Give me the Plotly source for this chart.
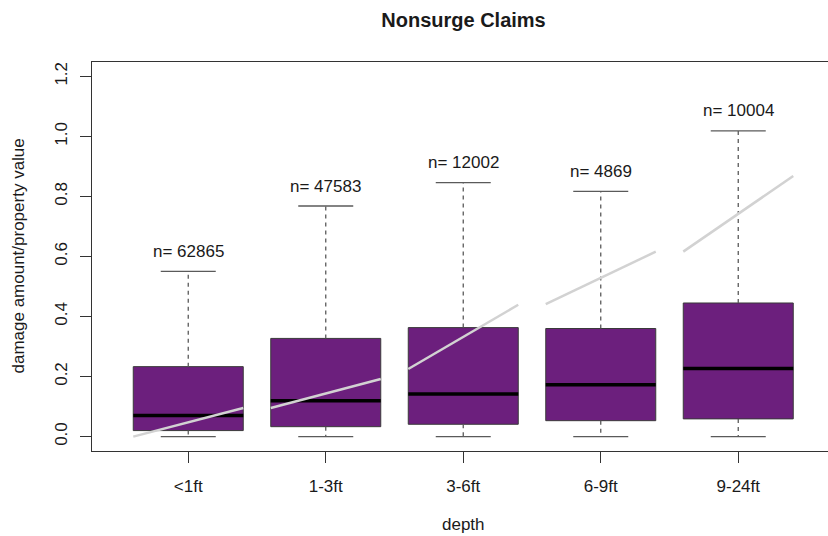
import plotly.graph_objects as go

# Depth classes and box statistics (damage amount / property value)
depth = ["<1ft", "1-3ft", "3-6ft", "6-9ft", "9-24ft"]
n_claims = [62865, 47583, 12002, 4869, 10004]
lower_whisker = [0.0, 0.0, 0.0, 0.0, 0.0]
q1 = [0.020, 0.033, 0.041, 0.053, 0.059]
median = [0.070, 0.119, 0.142, 0.173, 0.227]
q3 = [0.233, 0.327, 0.363, 0.360, 0.445]
upper_whisker = [0.550, 0.768, 0.846, 0.817, 1.018]

# Reference damage curve evaluated at the start and end of each depth class
curve_start = [0.0, 0.095, 0.225, 0.441, 0.616]
curve_end = [0.095, 0.192, 0.439, 0.616, 0.868]

y_ticks = [0.0, 0.2, 0.4, 0.6, 0.8, 1.0, 1.2]

FONT = "Liberation Sans, Arial, sans-serif"
TEXT = "#1a1a1a"
BOX_FILL = "#6c1f7d"
BOX_EDGE = "#3a3a3a"
WHISKER = "#5a5a5a"
CURVE = "#d2d2d2"
HALF = 0.4      # half box width (boxwex 0.8)
CAP = 0.2       # half staple width

pos = list(range(1, len(depth) + 1))


def segments(xs0, xs1, ys0, ys1):
    xs, ys = [], []
    for a, b, c, d in zip(xs0, xs1, ys0, ys1):
        xs += [a, b, None]
        ys += [c, d, None]
    return xs, ys


fig = go.Figure()

# whiskers (dashed) from box edges to extremes
wx, wy = segments(pos + pos, pos + pos, q3 + q1, upper_whisker + lower_whisker)
fig.add_trace(go.Scatter(x=wx, y=wy, mode="lines", hoverinfo="skip",
                         line=dict(color=WHISKER, width=1.3, dash="4px,4px")))

# staples at whisker ends
cx, cy = segments([p - CAP for p in pos] * 2, [p + CAP for p in pos] * 2,
                  upper_whisker + lower_whisker, upper_whisker + lower_whisker)
fig.add_trace(go.Scatter(x=cx, y=cy, mode="lines", hoverinfo="skip",
                         line=dict(color=WHISKER, width=1.3)))

# boxes: interquartile range
fig.add_trace(go.Bar(x=pos, base=q1, y=[b - a for a, b in zip(q1, q3)],
                     width=2 * HALF, hoverinfo="skip",
                     marker=dict(color=BOX_FILL, line=dict(color=BOX_EDGE, width=1))))

# medians
mx, my = segments([p - HALF for p in pos], [p + HALF for p in pos], median, median)
fig.add_trace(go.Scatter(x=mx, y=my, mode="lines", hoverinfo="skip",
                         line=dict(color="black", width=3.5)))

# reference curve across each depth class
rx, ry = segments([p - HALF for p in pos], [p + HALF for p in pos], curve_start, curve_end)
fig.add_trace(go.Scatter(x=rx, y=ry, mode="lines", hoverinfo="skip",
                         line=dict(color=CURVE, width=2.5)))

# sample size labels above the upper whiskers
for p, n, u in zip(pos, n_claims, upper_whisker):
    fig.add_annotation(x=p, y=u, xref="x", yref="y", text=f"n= {n}",
                       showarrow=False, yshift=20,
                       font=dict(family=FONT, size=17, color=TEXT))

# axis titles
fig.add_annotation(x=0.5048, y=-0.19, xref="paper", yref="paper", text="depth",
                   showarrow=False, yanchor="middle",
                   font=dict(family=FONT, size=17, color=TEXT))
fig.add_annotation(x=-0.1005, y=0.5, xref="paper", yref="paper",
                   text="damage amount/property value", textangle=-90,
                   showarrow=False, xanchor="center", yanchor="middle",
                   font=dict(family=FONT, size=17, color=TEXT))

fig.update_layout(
    width=828, height=536,
    margin=dict(l=92, r=0, t=62, b=84.5),
    paper_bgcolor="white", plot_bgcolor="white",
    showlegend=False,
    title=dict(text="<b>Nonsurge Claims</b>", x=463.5 / 828, xanchor="center",
               y=1 - 20 / 536, yanchor="middle", xref="container", yref="container",
               font=dict(family=FONT, size=20, color=TEXT)),
    xaxis=dict(range=[0.3, 0.3 + 736 / 137.5], tickvals=pos, ticktext=depth,
               showgrid=False, zeroline=False,
               showline=True, linecolor="#333", linewidth=1.2, mirror=True,
               ticks="outside", ticklen=11, tickcolor="#333", tickwidth=1,
               ticklabelstandoff=8,
               tickfont=dict(family=FONT, size=17, color=TEXT)),
    yaxis=dict(range=[-0.048, 1.2477], tickvals=y_ticks,
               ticktext=[f"{v:.1f}" for v in y_ticks], tickangle=-90,
               showgrid=False, zeroline=False,
               showline=True, linecolor="#333", linewidth=1.2,
               ticks="outside", ticklen=11, tickcolor="#333", tickwidth=1,
               ticklabelstandoff=6,
               tickfont=dict(family=FONT, size=17, color=TEXT)),
)

fig.write_html("out.html")
